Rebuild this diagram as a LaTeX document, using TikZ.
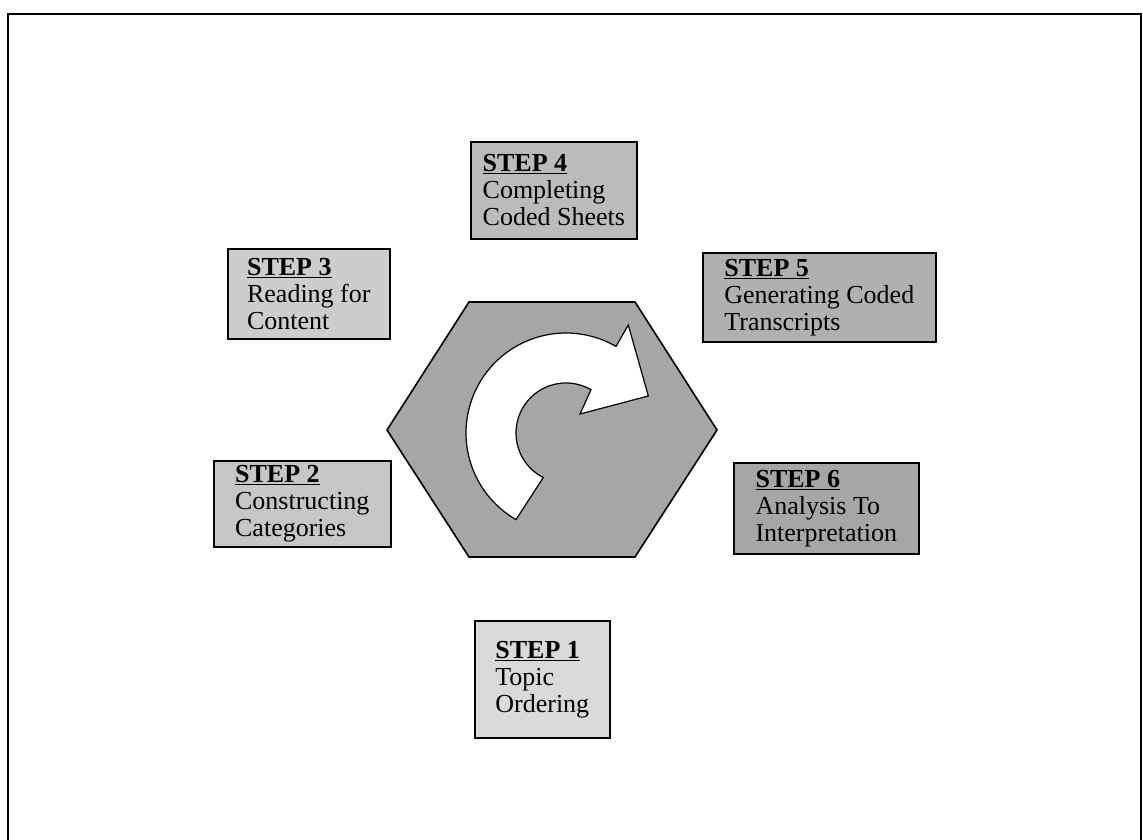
\documentclass[tikz,border=0pt]{standalone}
\usepackage{fontspec}
\setmainfont{Liberation Serif}
\definecolor{g1}{HTML}{D9D9D9}
\definecolor{g2}{HTML}{C6C6C6}
\definecolor{g3}{HTML}{CDCDCD}
\definecolor{g4}{HTML}{BBBBBB}
\definecolor{g5}{HTML}{B0B0B0}
\definecolor{g6}{HTML}{A6A6A6}
\definecolor{hexgrey}{HTML}{A6A6A6}
\begin{document}
\begin{tikzpicture}[x=1pt,y=-1pt,
  stepbox/.style={draw=black, line width=1.6pt, anchor=north west, align=left,
    inner sep=0pt, font={\fontsize{26}{27}\selectfont}},
  framestyle/.style={draw=black, line width=2pt},
  hexstyle/.style={draw=black, line width=1.6pt, fill=hexgrey, line join=miter},
  arrowstyle/.style={draw=black, line width=1.2pt, fill=white, line join=miter}]
\useasboundingbox (0,0) rectangle (1143,840);
\fill[white] (0,0) rectangle (1143,840);
% outer frame
\coordinate (fbl) at (8,840);
\coordinate (ftl) at (8,14);
\coordinate (ftr) at (1141,14);
\coordinate (fbr) at (1141,840);
\draw[framestyle] (fbl) -- (ftl) -- (ftr) -- (fbr);
% hexagon
\coordinate (h1) at (469,302);
\coordinate (h2) at (635,302);
\coordinate (h3) at (717,430);
\coordinate (h4) at (635,557);
\coordinate (h5) at (469,557);
\coordinate (h6) at (387,430);
\draw[hexstyle] (h1) -- (h2) -- (h3) -- (h4) -- (h5) -- (h6) -- cycle;
% curved arrow
\coordinate (b1) at (628.3,325);
\coordinate (tip) at (648.3,396);
\coordinate (b2) at (580,414);
\draw[arrowstyle]
  plot[domain=240:60, samples=80] ({566+100*cos(\x)},{433-100*sin(\x)})
  -- (b1) -- (tip) -- (b2)
  -- plot[domain=60:243, samples=60] ({566+50*cos(\x)},{433-50*sin(\x)})
  -- cycle;
% step boxes
\node[stepbox, fill=g1, minimum width=135, minimum height=117] (s1) at (474,620)
  {\underline{\textbf{STEP 1}}\\Topic\\Ordering};
\node[stepbox, fill=g2, minimum width=177, minimum height=86] (s2) at (213,460)
  {\underline{\textbf{STEP 2}}\\Constructing\\Categories};
\node[stepbox, fill=g3, minimum width=162, minimum height=90] (s3) at (227,248)
  {\underline{\textbf{STEP 3}}\\Reading for\\Content};
\node[stepbox, fill=g4, minimum width=166, minimum height=97] (s4) at (470,141)
  {\underline{\textbf{STEP 4}}\\Completing\\Coded Sheets};
\node[stepbox, fill=g5, minimum width=233, minimum height=89] (s5) at (702,252)
  {\underline{\textbf{STEP 5}}\\Generating Coded\\Transcripts};
\node[stepbox, fill=g6, minimum width=185, minimum height=91] (s6) at (733,462)
  {\underline{\textbf{STEP 6}}\\Analysis To\\Interpretation};
\end{tikzpicture}
\end{document}
